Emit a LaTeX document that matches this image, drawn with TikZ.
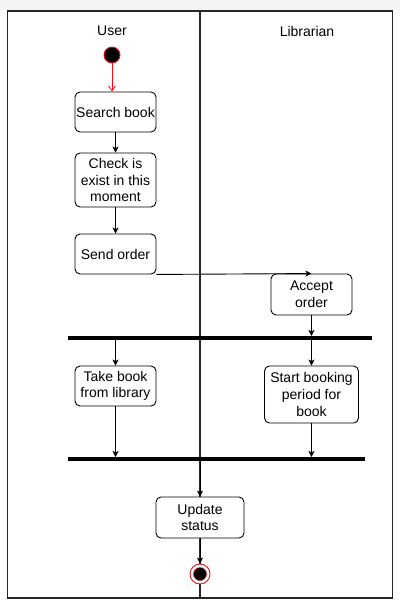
\documentclass[tikz,border=0pt]{standalone}
\usepackage{fontspec}
\setmainfont{Liberation Sans}
\usetikzlibrary{arrows.meta}
\definecolor{topband}{HTML}{F4F4F6}
\definecolor{startred}{HTML}{E0151B}
\tikzset{
  act/.style={draw=black, line width=0.9pt, rounded corners=5pt, fill=white,
    align=center, inner sep=0pt, font=\fontsize{14}{16.7}\selectfont},
  lane/.style={draw=black!85, line width=1.1pt},
  arr/.style={-{Stealth[length=6pt,width=6pt,inset=1.5pt]}, line width=0.9pt, black},
  redarr/.style={-{Straight Barb[length=5pt,width=7pt]}, line width=0.8pt, startred},
  bar/.style={fill=black, draw=none, minimum height=3.6pt, inner sep=0pt},
  lanetitle/.style={font=\fontsize{14}{16}\selectfont},
}
\begin{document}
\begin{tikzpicture}[x=1pt,y=-1pt]
\useasboundingbox (0,0) rectangle (400,605);
\fill[white] (0,0) rectangle (400,605);
\fill[topband] (0,0) rectangle (400,9.5);
% swimlanes
\draw[lane] (7.5,11) rectangle (392.5,598);
\draw[lane] (200,11) -- (200,598);
\node[lanetitle] (user) at (112,31) {User};
\node[lanetitle] (lib) at (307,31) {Librarian};
% start
\node[circle, fill=black, draw=startred, line width=0.9pt, minimum size=16pt, inner sep=0pt] (start) at (112,55) {};
% actions
\node[act, minimum width=81pt, minimum height=40pt] (search) at (115.5,112) {Search book};
\node[act, minimum width=81pt, minimum height=54pt] (check) at (115.5,180) {Check is\\exist in this\\moment};
\node[act, minimum width=81pt, minimum height=40pt] (send) at (115.5,254) {Send order};
\node[act, minimum width=81pt, minimum height=41pt] (accept) at (311.5,294.5) {Accept\\order};
\node[bar, minimum width=304pt] (bar1) at (220,338) {};
\node[act, minimum width=81pt, minimum height=40pt] (take) at (115.5,386) {Take book\\from library};
\node[act, minimum width=94pt, minimum height=57pt] (booking) at (311.5,394.5) {Start booking\\period for\\book};
\node[bar, minimum width=297pt] (bar2) at (216.5,459) {};
\node[act, minimum width=88pt, minimum height=41pt] (update) at (200,517.5) {Update\\status};
% end
\node[circle, fill=white, draw=startred, line width=0.9pt, minimum size=20pt, inner sep=0pt] (end) at (200,574) {};
\node[circle, fill=black, draw=startred, line width=0.5pt, minimum size=13pt, inner sep=0pt] (endin) at (end.center) {};
% flows
\draw[redarr] (start) -- (search.north -| start);
\draw[arr] (search) -- (check);
\draw[arr] (check) -- (send);
\draw[arr] (send.south east) -- (accept.north);
\draw[arr] (accept) -- (accept.south |- bar1.north);
\draw[arr] (take.north |- bar1.south) -- (take.north);
\draw[arr] (booking.north |- bar1.south) -- (booking.north);
\draw[arr] (take) -- (take.south |- bar2.north);
\draw[arr] (booking) -- (booking.south |- bar2.north);
\draw[arr] (update.north |- bar2.south) -- (update.north);
\draw[arr] (update) -- (end.north);
\end{tikzpicture}
\end{document}
